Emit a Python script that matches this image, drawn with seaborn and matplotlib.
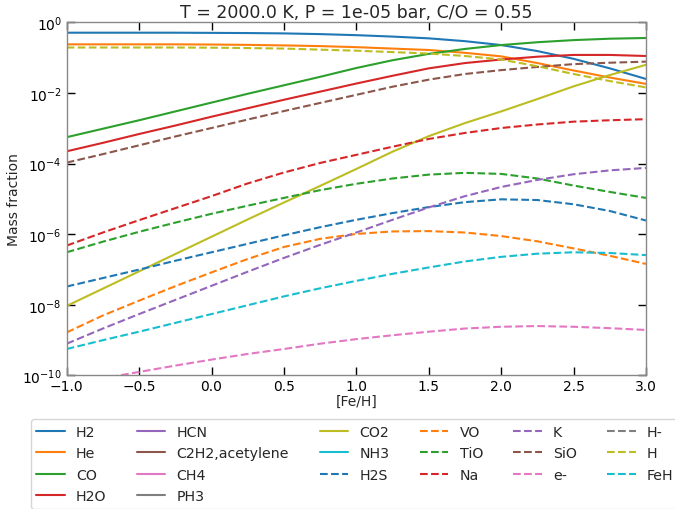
import numpy as np
import pandas as pd
import matplotlib
matplotlib.use("Agg")
import matplotlib.pyplot as plt
import seaborn as sns

feh = [-1.0, -0.75, -0.5, -0.25, 0.0, 0.25, 0.5, 0.75, 1.0, 1.25, 1.5, 1.75, 2.0, 2.25, 2.5, 2.75, 3.0]

# log10 mass fractions
H2 = [-0.29, -0.29, -0.29, -0.29, -0.295, -0.30, -0.31, -0.33, -0.36, -0.40, -0.45, -0.53, -0.64, -0.81, -1.03, -1.30, -1.60]
He = [-0.62, -0.62, -0.62, -0.62, -0.625, -0.635, -0.65, -0.67, -0.70, -0.74, -0.78, -0.86, -0.96, -1.15, -1.36, -1.56, -1.74]
CO = [-3.25, -3.01, -2.77, -2.52, -2.27, -2.02, -1.78, -1.54, -1.29, -1.07, -0.89, -0.75, -0.64, -0.56, -0.50, -0.46, -0.44]
H2O = [-3.65, -3.41, -3.16, -2.92, -2.67, -2.43, -2.19, -1.96, -1.73, -1.51, -1.30, -1.15, -1.05, -0.97, -0.92, -0.92, -0.95]
HCN = [-13.0] * 17
C2H2 = [-14.0] * 17
CH4 = [-13.5] * 17
PH3 = [-14.5] * 17
CO2 = [-8.03, -7.54, -7.05, -6.56, -6.07, -5.58, -5.10, -4.63, -4.15, -3.66, -3.22, -2.85, -2.52, -2.17, -1.81, -1.49, -1.20]
NH3 = [-12.5] * 17
H2S = [-7.48, -7.24, -7.00, -6.75, -6.51, -6.27, -6.03, -5.80, -5.59, -5.40, -5.23, -5.09, -5.01, -5.03, -5.15, -5.34, -5.61]
VO = [-8.78, -8.30, -7.88, -7.47, -7.08, -6.70, -6.36, -6.13, -5.99, -5.92, -5.91, -5.95, -6.05, -6.20, -6.40, -6.61, -6.84]
TiO = [-6.51, -6.21, -5.93, -5.67, -5.42, -5.19, -4.97, -4.75, -4.57, -4.42, -4.31, -4.26, -4.29, -4.42, -4.62, -4.80, -4.97]
Na = [-6.32, -5.95, -5.60, -5.26, -4.92, -4.56, -4.25, -3.98, -3.75, -3.52, -3.30, -3.13, -2.99, -2.89, -2.81, -2.77, -2.74]
K = [-9.10, -8.67, -8.26, -7.86, -7.46, -7.06, -6.67, -6.30, -5.95, -5.59, -5.24, -4.92, -4.66, -4.46, -4.30, -4.19, -4.12]
SiO = [-3.97, -3.73, -3.48, -3.23, -2.99, -2.75, -2.51, -2.28, -2.05, -1.82, -1.62, -1.46, -1.35, -1.26, -1.18, -1.14, -1.11]
e_minus = [-10.26, -10.08, -9.90, -9.72, -9.55, -9.39, -9.25, -9.10, -8.97, -8.86, -8.76, -8.67, -8.62, -8.60, -8.62, -8.66, -8.71]
H_minus = [-12.0] * 17
H = [-0.71, -0.71, -0.71, -0.71, -0.715, -0.725, -0.74, -0.77, -0.80, -0.84, -0.88, -0.95, -1.05, -1.24, -1.46, -1.66, -1.84]
FeH = [-9.25, -9.00, -8.76, -8.51, -8.26, -8.01, -7.76, -7.53, -7.32, -7.12, -6.94, -6.77, -6.64, -6.55, -6.51, -6.53, -6.59]

species = ["H2", "He", "CO", "H2O", "HCN", "C2H2,acetylene", "CH4", "PH3", "CO2", "NH3",
           "H2S", "VO", "TiO", "Na", "K", "SiO", "e-", "H-", "H", "FeH"]
series = [H2, He, CO, H2O, HCN, C2H2, CH4, PH3, CO2, NH3,
          H2S, VO, TiO, Na, K, SiO, e_minus, H_minus, H, FeH]

title = "T = 2000.0 K, P = 1e-05 bar, C/O = 0.55"

sns.set_style("ticks")
plt.rcParams["font.family"] = ["DejaVu Sans"]

palette = sns.color_palette("tab10", 10)

fig = plt.figure(figsize=(6.75, 5.1), dpi=100)
ax = fig.add_axes([0.0988, 0.2618, 0.8582, 0.6922])

for i, (name, vals) in enumerate(zip(species, series)):
    df = pd.DataFrame({"feh": feh, "mf": np.power(10.0, vals)})
    sns.lineplot(data=df, x="feh", y="mf", ax=ax, color=palette[i % 10],
                 linestyle="-" if i < 10 else "--", linewidth=1.5, label=name)

ax.set_yscale("log")
ax.set_xlim(-1.0, 3.0)
ax.set_ylim(1e-10, 1.0)
ax.yaxis.set_major_locator(matplotlib.ticker.LogLocator(base=10, subs=[1.0], numticks=6))
ax.yaxis.set_minor_locator(matplotlib.ticker.NullLocator())
ax.set_xticks([-1.0, -0.5, 0.0, 0.5, 1.0, 1.5, 2.0, 2.5, 3.0])
ax.tick_params(direction="in", top=True, right=True, length=6, width=1, labelsize=10, colors="black")
ax.tick_params(axis="x", pad=2.5)
for s in ax.spines.values():
    s.set_color("#888888")
    s.set_linewidth(1.0)
ax.set_xlabel("[Fe/H]", fontsize=10, labelpad=1)
ax.set_ylabel("Mass fraction", fontsize=10, labelpad=1)
ax.set_title(title, fontsize=12.5, pad=4)

handles, labels = ax.get_legend_handles_labels()
ax.legend(handles, labels, ncol=6, loc="upper left", bbox_to_anchor=(0.035, 0.19),
          bbox_transform=fig.transFigure, fontsize=10.2, labelspacing=0.52,
          columnspacing=2.15, handlelength=2.0, frameon=True)

fig.savefig("out.png", dpi=100)
